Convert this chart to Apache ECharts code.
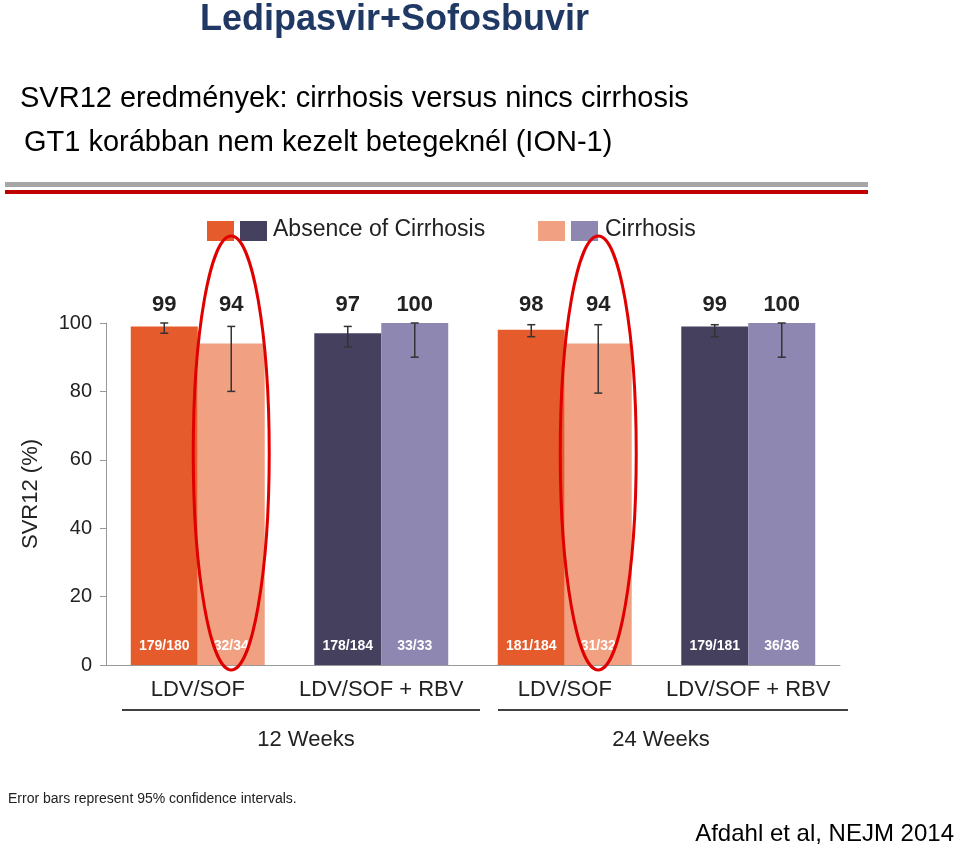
<!DOCTYPE html>
<html><head><meta charset="utf-8">
<script src="https://cdn.jsdelivr.net/npm/echarts@6/dist/echarts.min.js"></script>
<style>html,body{margin:0;padding:0;background:#fff}#c{width:960px;height:852px}</style>
</head><body><div id="c"></div>
<script>
const categories = ['LDV/SOF','LDV/SOF + RBV','LDV/SOF','LDV/SOF + RBV'];
const noCirrhosis = [99, 97, 98, 99];
const cirrhosis = [94, 100, 94, 100];
const noCirrLow = [97, 93, 96, 96];
const noCirrHigh = [100, 99, 99.5, 99.5];
const cirrLow = [80, 90, 79.5, 90];
const cirrHigh = [99, 100, 99.5, 100];
const noCirrN = ['179/180','178/184','181/184','179/181'];
const cirrN = ['32/34','33/33','31/32','36/36'];
const yTicks = [0,20,40,60,80,100];

const colA = ['#E55B2C','#46405F','#E55B2C','#46405F'];
const colB = ['#F1A181','#8D87B1','#F1A181','#8D87B1'];
const font = 'Liberation Sans, Arial, sans-serif';

function errSeries(low, high, idx){
  return {type:'custom', z:10, data: low.map((l,i)=>[i,l,high[i]]),
    renderItem:(p,api)=>{
      const x = api.value(0);
      const lo = api.coord([x, api.value(1)]);
      const hi = api.coord([x, api.value(2)]);
      const bw = api.size([1,0])[0]*0.73/2;
      const cx = lo[0] + (idx===0 ? -bw/2 : bw/2);
      const st = {stroke:'#333', lineWidth:1.5};
      return {type:'group', children:[
        {type:'line', shape:{x1:cx,y1:lo[1],x2:cx,y2:hi[1]}, style:st},
        {type:'line', shape:{x1:cx-4,y1:lo[1],x2:cx+4,y2:lo[1]}, style:st},
        {type:'line', shape:{x1:cx-4,y1:hi[1],x2:cx+4,y2:hi[1]}, style:st}
      ]};
    }};
}

const chart = echarts.init(document.getElementById('c'));
chart.setOption({
  animation:false,
  grid:{left:106, right:120, top:323, bottom:187},
  xAxis:{type:'category', data:categories,
    axisLine:{lineStyle:{color:'#999'}}, axisTick:{show:false},
    axisLabel:{interval:0, fontFamily:font, fontSize:22, color:'#222', margin:14}},
  yAxis:{type:'value', min:0, max:100, interval:20,
    axisLine:{show:true, lineStyle:{color:'#999'}}, axisTick:{show:true, length:6, lineStyle:{color:'#999'}},
    splitLine:{show:false},
    axisLabel:{fontFamily:font, fontSize:20, color:'#222', margin:14},
    name:'SVR12 (%)', nameLocation:'middle', nameGap:64, nameRotate:90,
    nameTextStyle:{fontFamily:font, fontSize:22, color:'#222'}},
  series:[
    {type:'bar', barWidth:'36.5%', barGap:'0%',
      data: noCirrhosis.map((v,i)=>({value:v, itemStyle:{color:colA[i]}}))},
    {type:'bar', barWidth:'36.5%', barGap:'0%',
      data: cirrhosis.map((v,i)=>({value:v, itemStyle:{color:colB[i]}}))},
    errSeries(noCirrLow, noCirrHigh, 0),
    errSeries(cirrLow, cirrHigh, 1),
    {type:'custom', z:11, data: noCirrN.map((t,i)=>[i,0]),
      renderItem:(p,api)=>{
        const i = p.dataIndex;
        const c = api.coord([api.value(0),0]); const top = api.coord([api.value(0),100]);
        const bw = api.size([1,0])[0]*0.73/2;
        const tf = 'bold 14px '+font, lf = 'bold 22px '+font;
        return {type:'group', children:[
          {type:'text', style:{x:c[0]-bw/2, y:c[1]-19, text:noCirrN[i], fill:'#fff', font:tf, align:'center', verticalAlign:'middle'}},
          {type:'text', style:{x:c[0]+bw/2, y:c[1]-19, text:cirrN[i], fill:'#fff', font:tf, align:'center', verticalAlign:'middle'}},
          {type:'text', style:{x:c[0]-bw/2, y:top[1]-18, text:String(noCirrhosis[i]), fill:'#222', font:lf, align:'center', verticalAlign:'middle'}},
          {type:'text', style:{x:c[0]+bw/2, y:top[1]-18, text:String(cirrhosis[i]), fill:'#222', font:lf, align:'center', verticalAlign:'middle'}}
        ]};
      }}
  ]
});

const pc = (i,v)=>chart.convertToPixel({gridIndex:0},[i,v]);
const bw = (pc(1,0)[0]-pc(0,0)[0])*0.73/2;
const e1 = pc(0,50), e2 = pc(2,50);
const g = [
  {type:'text', left:200, top:2, style:{text:'Ledipasvir+Sofosbuvir', font:'bold 36px '+font, fill:'#1F3864'}},
  {type:'text', left:20, top:84, style:{text:'SVR12 eredmények: cirrhosis versus nincs cirrhosis', font:'29px '+font, fill:'#000'}},
  {type:'text', left:24, top:128, style:{text:'GT1 korábban nem kezelt betegeknél (ION-1)', font:'29px '+font, fill:'#000'}},
  {type:'rect', shape:{x:5,y:182,width:863,height:5}, style:{fill:'#A6A6A6'}},
  {type:'rect', shape:{x:5,y:190,width:863,height:4}, style:{fill:'#C00000'}},
  {type:'rect', shape:{x:207,y:221,width:27,height:20}, style:{fill:'#E55B2C'}},
  {type:'rect', shape:{x:240,y:221,width:27,height:20}, style:{fill:'#46405F'}},
  {type:'text', left:273, top:218, style:{text:'Absence of Cirrhosis', font:'23px '+font, fill:'#222'}},
  {type:'rect', shape:{x:538,y:221,width:27,height:20}, style:{fill:'#F1A181'}},
  {type:'rect', shape:{x:571,y:221,width:27,height:20}, style:{fill:'#8D87B1'}},
  {type:'text', left:605, top:218, style:{text:'Cirrhosis', font:'23px '+font, fill:'#222'}},
  {type:'ellipse', z:20, shape:{cx:e1[0]+bw/2, cy:453, rx:38, ry:217}, style:{fill:'none', stroke:'#E00000', lineWidth:3}},
  {type:'ellipse', z:20, shape:{cx:e2[0]+bw/2, cy:453, rx:38, ry:217}, style:{fill:'none', stroke:'#E00000', lineWidth:3}},
  {type:'line', shape:{x1:122,y1:710,x2:480,y2:710}, style:{stroke:'#000', lineWidth:1.5}},
  {type:'line', shape:{x1:498,y1:710,x2:848,y2:710}, style:{stroke:'#000', lineWidth:1.5}},
  {type:'text', style:{x:306, y:740, text:'12 Weeks', font:'22px '+font, fill:'#222', align:'center', verticalAlign:'middle'}},
  {type:'text', style:{x:661, y:740, text:'24 Weeks', font:'22px '+font, fill:'#222', align:'center', verticalAlign:'middle'}},
  {type:'text', left:8, top:792, style:{text:'Error bars represent 95% confidence intervals.', font:'14px '+font, fill:'#222'}},
  {type:'text', right:6, top:822, style:{text:'Afdahl et al, NEJM 2014', font:'24px '+font, fill:'#000'}}
];
chart.setOption({graphic:g});
</script></body></html>
